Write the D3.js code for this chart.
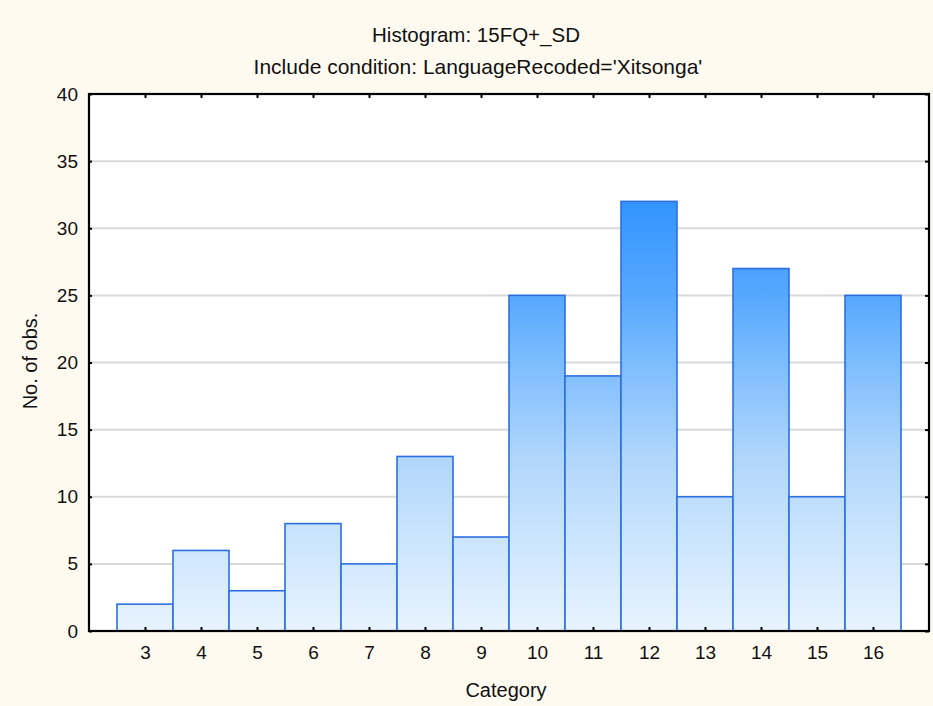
<!DOCTYPE html>
<html lang="en">
<head>
<meta charset="utf-8">
<title>Histogram: 15FQ+_SD</title>
<script src="https://cdn.jsdelivr.net/npm/d3@7"></script>
<style>
  body { margin: 0; background: #fffaf0; }
  svg text { font-family: "Liberation Sans", Arial, sans-serif; fill: #111; }
</style>
</head>
<body>
<svg id="chart" width="933" height="706"></svg>
<script>
// histogram counts per category
var categories = [3, 4, 5, 6, 7, 8, 9, 10, 11, 12, 13, 14, 15, 16];
var counts     = [2, 6, 3, 8, 5, 13, 7, 25, 19, 32, 10, 27, 10, 25];
var yTicks     = [0, 5, 10, 15, 20, 25, 30, 35, 40];

var titleText = 'Histogram: 15FQ+_SD';
var subText = "Include condition: LanguageRecoded='Xitsonga'";

// fill colour by count level (gradient runs along the value axis)
var shadeAt  = [0, 8, 13, 20, 25, 32];
var shadeCol = ['#e8f3ff', '#c6e2fd', '#b0d6fb', '#7cbcfd', '#56a8ff', '#3394ff'];

var W = 933, H = 706;
// note: "top" is taken by window.top, so plot edges get a prefix
var plotL = 89, plotR = 929, plotT = 94, plotB = 631;

var svg = d3.select('#chart');

svg.append('rect').attr('width', W).attr('height', H).attr('fill', '#fffaf0');

var x = d3.scaleLinear().domain([2, 17]).range([plotL, plotR]);
var y = d3.scaleLinear().domain([0, 40]).range([plotB, plotT]);

var defs = svg.append('defs');
var grad = defs.append('linearGradient')
    .attr('id', 'barfill')
    .attr('gradientUnits', 'userSpaceOnUse')
    .attr('x1', 0).attr('x2', 0)
    .attr('y1', y(0)).attr('y2', y(40));
for (var s = 0; s < shadeAt.length; s++) {
    grad.append('stop')
        .attr('offset', (shadeAt[s] / 40 * 100) + '%')
        .attr('stop-color', shadeCol[s]);
}

// plot area
svg.append('rect')
    .attr('x', plotL).attr('y', plotT)
    .attr('width', plotR - plotL).attr('height', plotB - plotT)
    .attr('fill', '#fff');

// grid lines
svg.append('g').selectAll('line')
    .data(yTicks.filter(function(d) { return d > 0 && d < 40; }))
    .enter().append('line')
    .attr('x1', plotL).attr('x2', plotR)
    .attr('y1', function(d) { return y(d); })
    .attr('y2', function(d) { return y(d); })
    .attr('stroke', '#d8d8d8')
    .attr('stroke-width', 2);

// bars
svg.append('g').selectAll('rect')
    .data(categories)
    .enter().append('rect')
    .attr('x', function(d) { return x(d - 0.5); })
    .attr('y', function(d, i) { return y(counts[i]); })
    .attr('width', function(d) { return x(d + 0.5) - x(d - 0.5); })
    .attr('height', function(d, i) { return y(0) - y(counts[i]); })
    .attr('fill', 'url(#barfill)')
    .attr('stroke', '#2d6fe0')
    .attr('stroke-width', 1.6);

// axes: ticks point inwards on all four sides
var bottomAxis = d3.axisBottom(x).tickValues(categories).tickSizeInner(-4).tickSizeOuter(0).tickPadding(15);
var topAxis = d3.axisTop(x).tickValues(categories).tickSizeInner(-4).tickSizeOuter(0).tickFormat('');
var leftAxis = d3.axisLeft(y).tickValues(yTicks).tickSizeInner(-3).tickSizeOuter(0).tickPadding(11);
var rightAxis = d3.axisRight(y).tickValues(yTicks).tickSizeInner(-4).tickSizeOuter(0).tickFormat('');

function styleAxis(g) {
    g.select('.domain').remove();
    g.selectAll('.tick line').attr('stroke', '#000').attr('stroke-width', 2);
    g.selectAll('.tick text').attr('font-size', 19).style('font-family', '"Liberation Sans", Arial, sans-serif').attr('fill', '#111');
}

svg.append('g').attr('transform', 'translate(0,' + plotB + ')').call(bottomAxis).call(styleAxis);
svg.append('g').attr('transform', 'translate(0,' + plotT + ')').call(topAxis).call(styleAxis);
svg.append('g').attr('transform', 'translate(' + plotL + ',0)').call(leftAxis).call(styleAxis);
svg.append('g').attr('transform', 'translate(' + plotR + ',0)').call(rightAxis).call(styleAxis);

// frame
svg.append('rect')
    .attr('x', plotL).attr('y', plotT)
    .attr('width', plotR - plotL).attr('height', plotB - plotT)
    .attr('fill', 'none')
    .attr('stroke', '#000')
    .attr('stroke-width', 2.2);

// titles
svg.append('text').attr('x', 476).attr('y', 42)
    .attr('text-anchor', 'middle').attr('font-size', 20.5).text(titleText);
svg.append('text').attr('x', 478).attr('y', 74)
    .attr('text-anchor', 'middle').attr('font-size', 21).text(subText);

svg.append('text').attr('x', 506).attr('y', 697)
    .attr('text-anchor', 'middle').attr('font-size', 20).text('Category');
svg.append('text')
    .attr('transform', 'translate(37,361) rotate(-90)')
    .attr('text-anchor', 'middle').attr('font-size', 20).text('No. of obs.');
</script>
</body>
</html>
